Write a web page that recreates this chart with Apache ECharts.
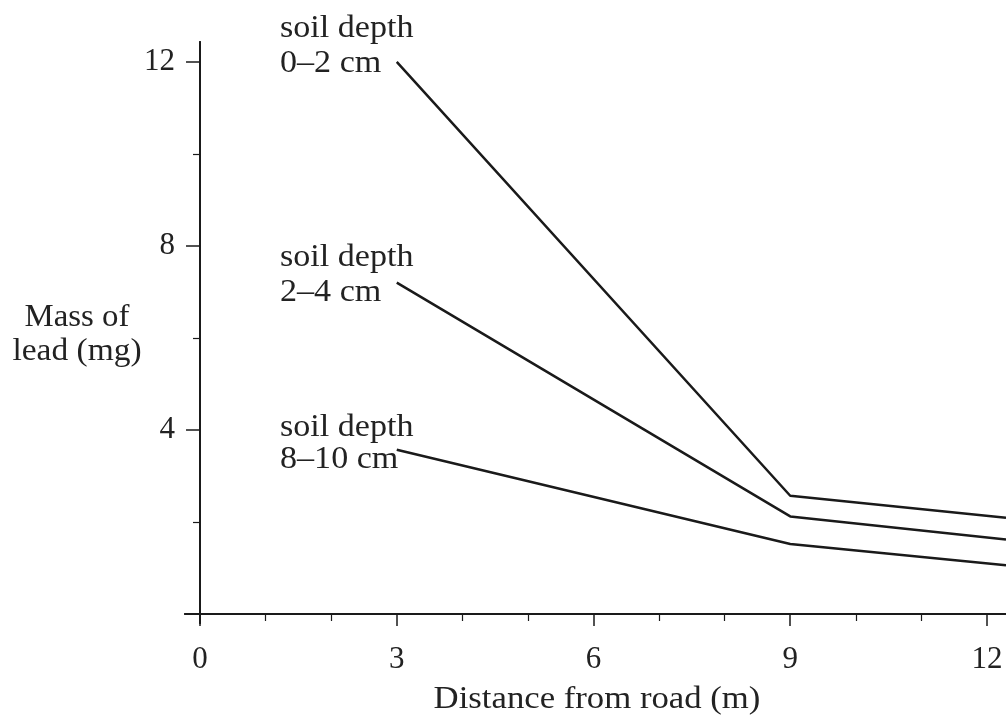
<!DOCTYPE html>
<html>
<head>
<meta charset="utf-8">
<script src="https://cdn.jsdelivr.net/npm/echarts@6/dist/echarts.min.js"></script>
<style>html,body{margin:0;padding:0;background:#fff}#c{width:1006px;height:717px}</style>
</head>
<body>
<div id="c"></div>
<script>
// Data
const distances = [3, 9, 12.29];
const depth0to2 = [12, 2.57, 2.09];
const depth2to4 = [7.2, 2.12, 1.62];
const depth8to10 = [3.57, 1.52, 1.06];
const xMajorTicks = [0, 3, 6, 9, 12];
const xMinorTicks = [1, 2, 4, 5, 7, 8, 10, 11];
const yMajorTicks = [4, 8, 12];
const yMinorTicks = [2, 6, 10];

const FONT = 'Liberation Serif';
const INK = '#1a1a1a';
const TXT = '#222';

function pairs(xs, ys) { return xs.map((x, i) => [x, ys[i]]); }

const xMin = -0.229, xMax = 12.29, yMin = -0.196, yMax = 12.43;

const axisLine = { onZero: true, lineStyle: { color: INK, width: 2 } };

function label(text, x, y, align, sx) {
  return { type: 'text', x: x, y: y, scaleX: sx || 1.1,
    style: { text: text, font: '31px "' + FONT + '"', fill: TXT, align: align, verticalAlign: 'middle' } };
}

const chart = echarts.init(document.getElementById('c'), null, { renderer: 'canvas' });
chart.setOption({
  animation: false,
  backgroundColor: '#fff',
  grid: { left: 185, right: 0, top: 42, bottom: 94, containLabel: false },
  xAxis: [
    {
      type: 'value', position: 'bottom', min: xMin, max: xMax,
      axisLine: axisLine,
      axisTick: { show: true, length: 12, customValues: xMajorTicks, lineStyle: { color: INK, width: 1.5 } },
      axisLabel: { customValues: xMajorTicks, fontFamily: FONT, fontSize: 31, color: TXT, margin: 21 },
      splitLine: { show: false }
    },
    {
      type: 'value', position: 'bottom', min: xMin, max: xMax,
      axisLine: axisLine,
      axisTick: { show: true, length: 7, customValues: xMinorTicks, lineStyle: { color: INK, width: 1.2 } },
      axisLabel: { show: false },
      splitLine: { show: false }
    }
  ],
  yAxis: [
    {
      type: 'value', position: 'left', min: yMin, max: yMax,
      axisLine: axisLine,
      axisTick: { show: true, length: 14, customValues: yMajorTicks, lineStyle: { color: INK, width: 1.5 } },
      axisLabel: { customValues: yMajorTicks, fontFamily: FONT, fontSize: 31, color: TXT, margin: 10 },
      splitLine: { show: false }
    },
    {
      type: 'value', position: 'left', min: yMin, max: yMax,
      axisLine: axisLine,
      axisTick: { show: true, length: 7, customValues: yMinorTicks, lineStyle: { color: INK, width: 1.2 } },
      axisLabel: { show: false },
      splitLine: { show: false }
    }
  ],
  series: [
    { name: 'soil depth 0–2 cm', type: 'line', xAxisIndex: 0, yAxisIndex: 0, data: pairs(distances, depth0to2),
      symbol: 'none', lineStyle: { color: INK, width: 2.5 } },
    { name: 'soil depth 2–4 cm', type: 'line', xAxisIndex: 0, yAxisIndex: 0, data: pairs(distances, depth2to4),
      symbol: 'none', lineStyle: { color: INK, width: 2.5 } },
    { name: 'soil depth 8–10 cm', type: 'line', xAxisIndex: 0, yAxisIndex: 0, data: pairs(distances, depth8to10),
      symbol: 'none', lineStyle: { color: INK, width: 2.5 } }
  ],
  graphic: [
    label('soil depth', 280, 29, 'left'),
    label('0–2 cm', 280, 64, 'left'),
    label('soil depth', 280, 258, 'left'),
    label('2–4 cm', 280, 293, 'left'),
    label('soil depth', 280, 428, 'left'),
    label('8–10 cm', 280, 460, 'left'),
    label('Mass of', 77, 318, 'center', 1.06),
    label('lead (mg)', 77, 352, 'center', 1.08),
    label('Distance from road (m)', 597, 700, 'center', 1.12)
  ]
});
</script>
</body>
</html>
